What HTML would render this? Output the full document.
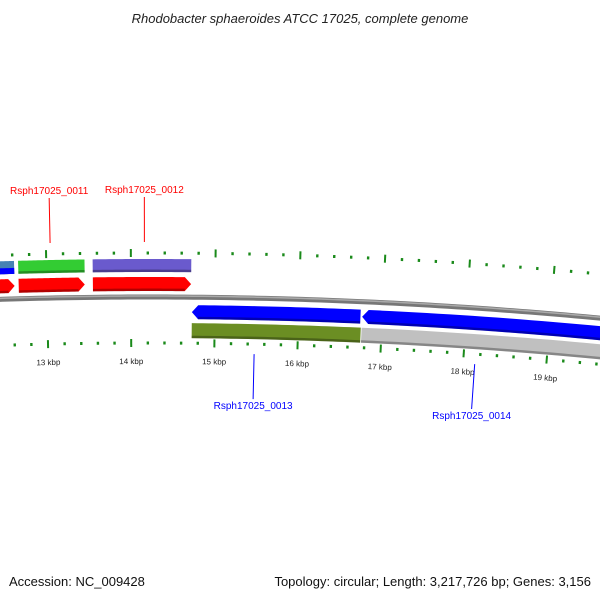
<!DOCTYPE html>
<html><head><meta charset="utf-8"><style>
body{margin:0;background:#fff}
svg{display:block;font-family:"Liberation Sans","DejaVu Sans",sans-serif}
</style></head><body>
<svg id="map" width="600" height="600" viewBox="0 0 600 600">
<text x="300" y="23" text-anchor="middle" font-size="13" font-style="italic" fill="#222">Rhodobacter sphaeroides ATCC 17025, complete genome</text>
<text x="9" y="586" font-size="13" fill="#111">Accession: NC_009428</text>
<text x="591" y="586" text-anchor="end" font-size="13" fill="#111">Topology: circular; Length: 3,217,726 bp; Genes: 3,156</text>
<g id="g"></g>
</svg>
<script>
// data
const tickKbp = [11,12,13,14,15,16,17,18,19,20,21];
const featNames = ["f-steel","f-green","f-purple","f-red1","f-red2","f-red3","f-blue1","f-blue2","f-olive","f-gray"];
const featStart = [12300,12667,13548,12300,12667,13548,14726,16760,14726,16760];
const featEnd   = [12619,13452,14714,12619,13452,14714,16740,21000,16750,21000];
const featTrack = [2,2,2,1,1,1,-1,-1,-2,-2];
const featStrand= [0,0,0,1,1,1,-1,-1,0,0];
const featColor = ["#4682b4","#33cc33","#6a5acd","#ff0000","#ff0000","#ff0000","#0000ff","#0000ff","#6b8e23","#c0c0c0"];
const labelText = ["Rsph17025_0011","Rsph17025_0012","Rsph17025_0013","Rsph17025_0014"];
const labelBp   = [13050,14160,15480,18140];
const labelSide = [1,1,-1,-1];

const NS="http://www.w3.org/2000/svg";
const g=document.getElementById('g');
const R=4800, cx=150, cy=297+R, bp0=14226, pxPerBp=0.084;
function ang(bp){return -Math.PI/2+(bp-bp0)*pxPerBp/R;}
function pt(bp,off){const a=ang(bp),r=R+off;return [cx+r*Math.cos(a),cy+r*Math.sin(a)];}
function arcPts(s,e,off,n){const p=[];for(let i=0;i<=n;i++)p.push(pt(s+(e-s)*i/n,off));return p;}
function mk(tag,attrs){const el=document.createElementNS(NS,tag);for(const k in attrs)el.setAttribute(k,attrs[k]);g.appendChild(el);return el;}
const trackOff={2:[25,38],1:[6,20],"-1":[-8,-22],"-2":[-26,-41]};

// backbone
let bb=arcPts(9000,22000,0,120).map(p=>p.join(',')).join(' ');
let el=mk('polyline',{points:bb,fill:'none',stroke:'#777','stroke-width':5});


el=mk('polyline',{points:arcPts(9000,22000,1,120).map(p=>p.join(',')).join(' '),fill:'none',stroke:'#aaa','stroke-width':1.5});



// features
for(let i=0;i<featNames.length;i++){
  const [o1,o2]=trackOff[featTrack[i]];const s=featStart[i],e=featEnd[i];const head=75;
  let pts=[];
  if(featStrand[i]===1){pts=arcPts(s,e-head,o2,30).concat([pt(e,(o1+o2)/2)]).concat(arcPts(e-head,s,o1,30));}
  else if(featStrand[i]===-1){pts=[pt(s,(o1+o2)/2)].concat(arcPts(s+head,e,o2,30)).concat(arcPts(e,s+head,o1,30));}
  else{pts=arcPts(s,e,o2,30).concat(arcPts(e,s,o1,30));}
  el=mk('polygon',{points:pts.map(p=>p.join(',')).join(' '),fill:featColor[i]});
  
  
  // darker lower edge for shading
  const lo=Math.min(o1,o2);
  el=mk('polyline',{points:arcPts(s+(featStrand[i]===-1?head:0),e-(featStrand[i]===1?head:0),lo+1.2,30).map(p=>p.join(',')).join(' '),fill:'none',stroke:'rgba(0,0,0,0.3)','stroke-width':2.5});
  
  
}
// steel/blue split feature bottom half blue
el=mk('polygon',{points:arcPts(12300,12619,31,10).concat(arcPts(12619,12300,25,10)).map(p=>p.join(',')).join(' '),fill:'#0000ff'});



// ticks
for(let k=tickKbp[0]*1000;k<=tickKbp[tickKbp.length-1]*1000;k+=200){
  const major=k%1000===0;
  [[44,1],[-46,-1]].forEach(([off,dir])=>{
    const len=major?8:3;
    const a=pt(k,off-len/2),b=pt(k,off+len/2);
    el=mk('line',{x1:a[0],y1:a[1],x2:b[0],y2:b[1],stroke:'#1a8a1a','stroke-width':major?2:2.4});
    
    
  });
}
tickKbp.forEach(k=>{
  const p=pt(k*1000,-67);const deg=(ang(k*1000)+Math.PI/2)*180/Math.PI;
  el=mk('text',{x:p[0],y:p[1],'font-size':8,'text-anchor':'middle',fill:'#222',transform:`rotate(${deg} ${p[0]} ${p[1]})`});
  el.textContent=k+' kbp';
  
  
});

// labels
labelText.forEach((t,i)=>{
  const col=labelSide[i]>0?'#ff0000':'#0000ff';
  const a=pt(labelBp[i],labelSide[i]>0?55:-56),b=pt(labelBp[i],labelSide[i]>0?100:-101);
  el=mk('line',{x1:a[0],y1:a[1],x2:b[0],y2:b[1],stroke:col,'stroke-width':1});
  
  
  el=mk('text',{x:b[0],y:labelSide[i]>0?b[1]-4:b[1]+10,'font-size':10,'text-anchor':'middle',fill:col});
  el.textContent=t;
  
  
});
</script>
</body></html>
